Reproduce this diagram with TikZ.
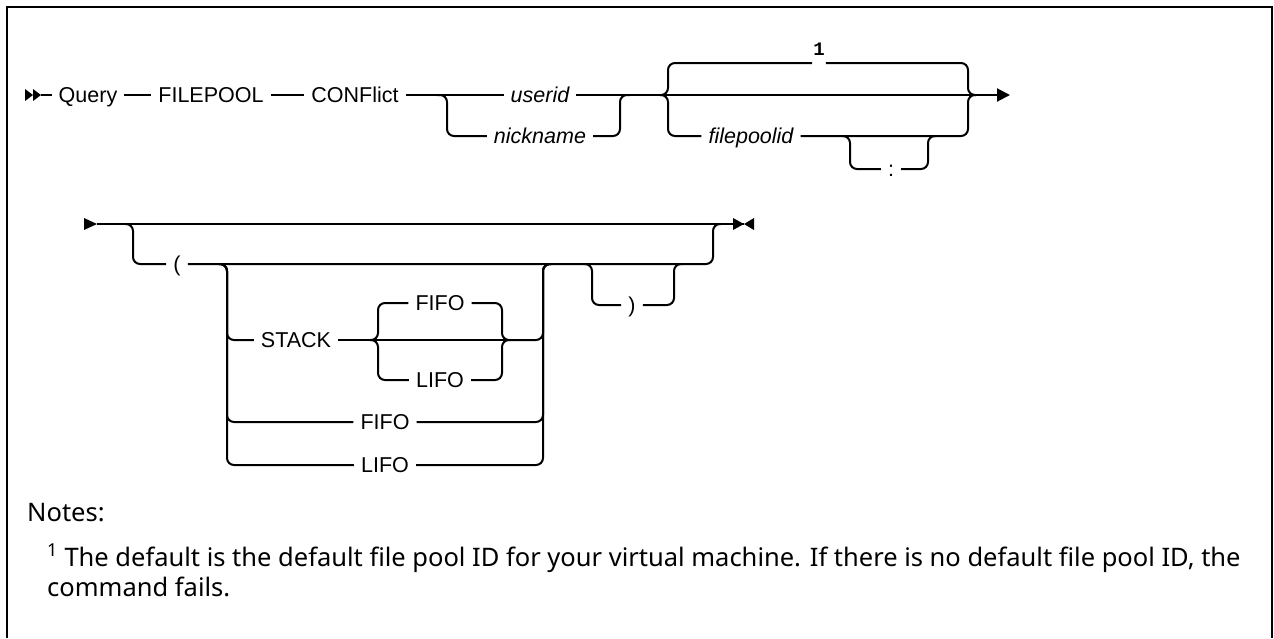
\documentclass[tikz,border=0pt]{standalone}
\usepackage{fontspec}
\setmainfont{Liberation Sans}
\newfontfamily\notefont{Noto Sans}
\newfontfamily\fnfont{Liberation Mono}
\usetikzlibrary{positioning,arrows.meta}

\begin{document}
\begin{tikzpicture}[x=1pt,y=-1pt,
  kw/.style={font=\fontsize{21.5}{24}\selectfont,inner xsep=7pt,inner ysep=0pt,text height=15.4pt,text depth=0pt},
  vr/.style={kw,font=\fontsize{21.5}{24}\selectfont\itshape},
  fn/.style={font=\fnfont\bfseries\fontsize{19}{20}\selectfont,inner xsep=1pt,inner ysep=0pt},
  note/.style={font=\notefont\fontsize{25.5}{28}\selectfont,inner sep=0pt},
  rail/.style={line width=2pt,rounded corners=7pt},
  frame/.style={line width=2pt}
]
\useasboundingbox (0,0) rectangle (1274,638);
\draw[frame] (7,638) -- (7,7) -- (1272,7) -- (1272,638);

% first line of the diagram
\coordinate (startA) at (41,95);
\node[kw] (query) at (88,95) {Query};
\node[kw] (filepool) at (211,95) {FILEPOOL};
\node[kw] (conflict) at (355,95) {CONFlict};
\node[vr] (userid) at (540,95) {userid};
\node[vr] (nickname) at (540,136) {nickname};
\node[vr] (fpid) at (751,136) {filepoolid};
\node[kw] (colon) at (891,169) {:};
\node[fn] (fnote) at (819,49) {1};
\coordinate (ua) at (447,95);
\coordinate (ub) at (620,95);
\coordinate (bl) at (668,95);
\coordinate (br) at (968,95);
\coordinate (topl) at (668,63);
\coordinate (topr) at (968,63);
\coordinate (ca) at (850,136);
\coordinate (cb) at (928,136);
\coordinate (endA) at (1010,95);

\fill (startA) -- ++(-8,-6) -- ++(0,12) -- cycle;
\fill (startA) ++(-8,0) -- ++(-8,-6) -- ++(0,12) -- cycle;
\draw[rail] (startA) -- (query);
\draw[rail] (query) -- (filepool);
\draw[rail] (filepool) -- (conflict);
\draw[rail] (conflict) -- (userid);
\draw[rail] ([xshift=-10pt]ua) -- (ua) -- (ua |- nickname) -- (nickname);
\draw[rail] (nickname) -- (ub |- nickname) -- (ub) -- ([xshift=10pt]ub);
\draw[rail,-{Triangle[length=13pt,width=13pt]}] (userid) -- (endA);
\draw[rail] ([xshift=-8pt]bl) -- (bl) -- (topl) -- (topl -| fnote.west);
\draw[rail] (topl -| fnote.east) -- (topr) -- (br) -- ([xshift=8pt]br);
\draw[rail] ([xshift=-8pt]bl) -- (bl) -- (bl |- fpid) -- (fpid);
\draw[rail] (fpid) -- (br |- fpid) -- (br) -- ([xshift=8pt]br);
\draw[rail] ([xshift=-8pt]ca) -- (ca) -- (ca |- colon) -- (colon);
\draw[rail] (colon) -- (cb |- colon) -- (cb) -- ([xshift=8pt]cb);

% second line of the diagram
\coordinate (startB) at (97,224);
\coordinate (endB) at (744,224);
\node[kw] (lparen) at (177,264) {(};
\node[kw] (stack) at (296,340) {STACK};
\node[kw] (stkfifo) at (440,303) {FIFO};
\node[kw] (stklifo) at (440,380) {LIFO};
\node[kw] (fifo) at (385,422) {FIFO};
\node[kw] (lifo) at (385,465) {LIFO};
\node[kw] (rparen) at (632,305) {)};
\coordinate (pa) at (133,224);
\coordinate (ga) at (227,264);
\coordinate (gb) at (543,264);
\coordinate (sl) at (378,340);
\coordinate (sr) at (502,340);
\coordinate (ra) at (592,264);
\coordinate (rb) at (674,264);
\coordinate (qb) at (713,224);

\fill (startB) -- ++(-13,-6) -- ++(0,12) -- cycle;
\draw[rail] (startB) -- (endB);
\fill (endB) -- ++(-11,-6) -- ++(0,12) -- cycle;
\fill (endB) -- ++(10,-6) -- ++(0,12) -- cycle;
\draw[rail] ([xshift=-8pt]pa) -- (pa) -- (pa |- lparen) -- (lparen);
\draw[rail] (lparen) -- (qb |- lparen) -- (qb) -- ([xshift=8pt]qb);
\draw[rail] ([xshift=-8pt]ga) -- (ga) -- (ga |- stack) -- (stack);
\draw[rail] ([xshift=-8pt]ga) -- (ga) -- (ga |- fifo) -- (fifo);
\draw[rail] ([xshift=-8pt]ga) -- (ga) -- (ga |- lifo) -- (lifo);
\draw[rail] (stack) -- ([xshift=8pt]sr);
\draw[rail] ([xshift=-8pt]sl) -- (sl) -- (sl |- stkfifo) -- (stkfifo);
\draw[rail] ([xshift=-8pt]sl) -- (sl) -- (sl |- stklifo) -- (stklifo);
\draw[rail] (stkfifo) -- (sr |- stkfifo) -- (sr) -- ([xshift=8pt]sr);
\draw[rail] (stklifo) -- (sr |- stklifo) -- (sr) -- ([xshift=8pt]sr);
\draw[rail] ([xshift=8pt]sr) -- (gb |- sr) -- (gb) -- ([xshift=8pt]gb);
\draw[rail] (fifo) -- (gb |- fifo) -- (gb) -- ([xshift=8pt]gb);
\draw[rail] (lifo) -- (gb |- lifo) -- (gb) -- ([xshift=8pt]gb);
\draw[rail] ([xshift=-8pt]ra) -- (ra) -- (ra |- rparen) -- (rparen);
\draw[rail] (rparen) -- (rb |- rparen) -- (rb) -- ([xshift=8pt]rb);

% notes
\node[note,anchor=base west] (notes) at (27,521) {Notes:};
\node[note,anchor=base west] (noteA) at (47,566) {\textsuperscript{1} The default is the default file pool ID for your virtual machine. If there is no default file pool ID, the};
\node[note,anchor=base west] (noteB) at (47,596) {command fails.};
\end{tikzpicture}
\end{document}
